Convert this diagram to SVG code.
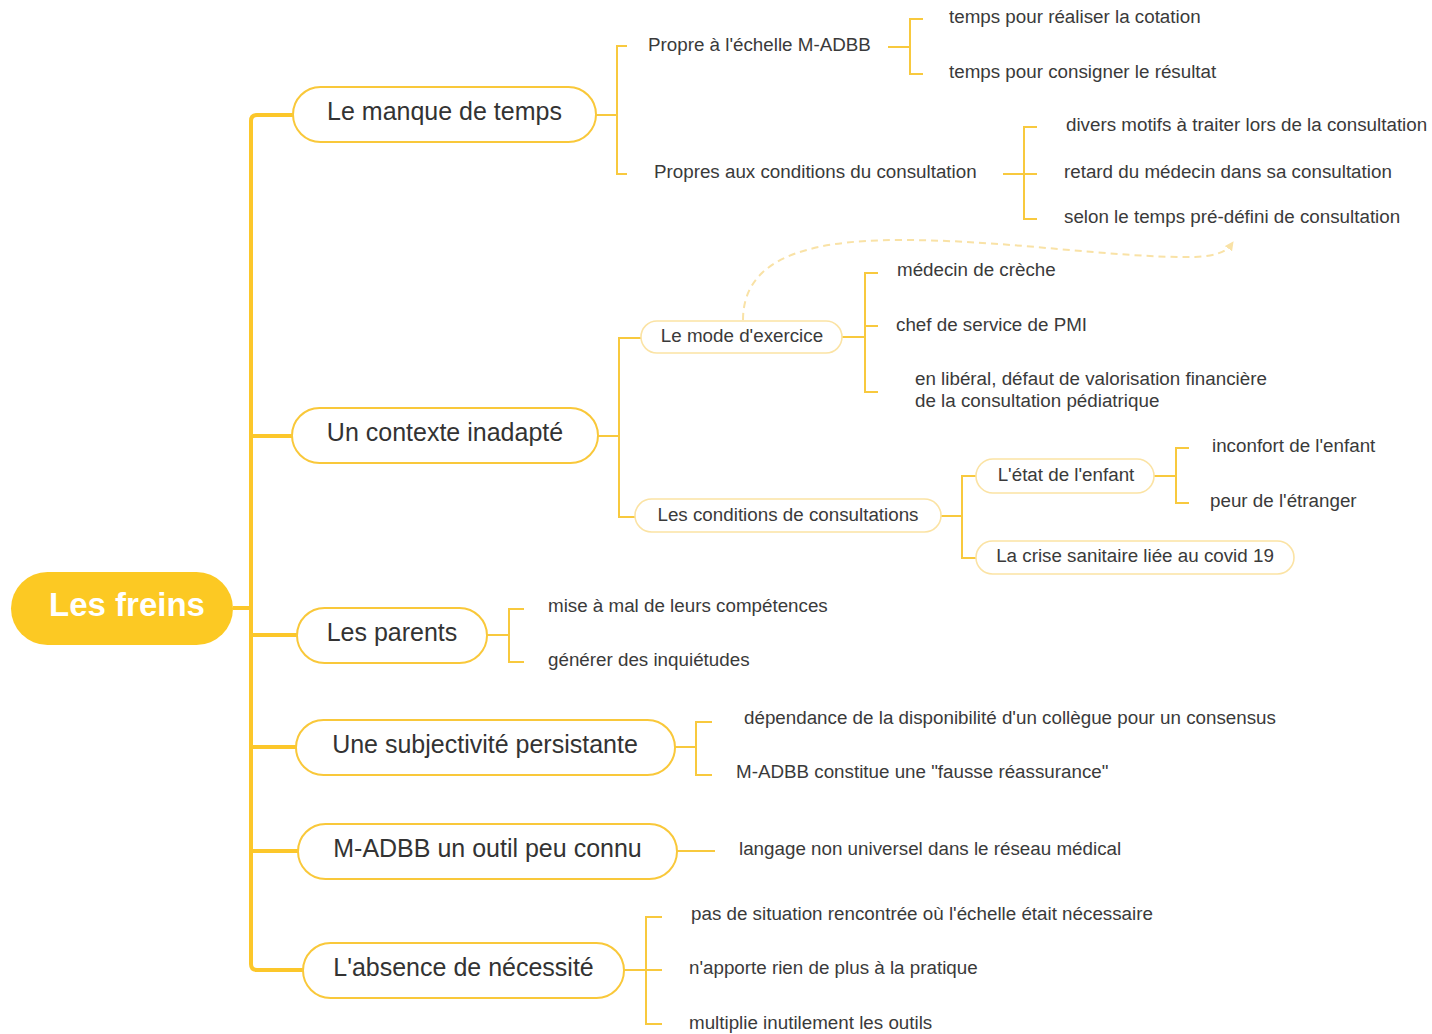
<svg xmlns="http://www.w3.org/2000/svg" width="1432" height="1034" viewBox="0 0 1432 1034">
<defs>
<style>
.t{font-family:"Liberation Sans",Arial,sans-serif;fill:#3a3a3a}
.l1{font-size:25px;text-anchor:middle;fill:#333}
.l2{font-size:18.8px}
.mid{text-anchor:middle}
.p1{fill:#fff;stroke:#F9C83A;stroke-width:2}
.p3{fill:#fff;stroke:#FBE3A4;stroke-width:1.6}
.br{fill:none;stroke:#F8C93E;stroke-width:2}
.tr{fill:none;stroke:#FCC72A;stroke-width:4;stroke-linejoin:round}
</style>
<marker id="ah" viewBox="0 0 10 10" refX="5" refY="5" markerWidth="9" markerHeight="9" orient="auto" markerUnits="userSpaceOnUse">
<path d="M0,0 L10,5 L0,10 z" fill="#F9E2A6"/>
</marker>
</defs>
<rect width="1432" height="1034" fill="#fff"/>

<g id="connectors">
<path class="tr" d="M233,608 H251"/>
<path class="tr" d="M293,115 H257 Q251,115 251,121 V964 Q251,970 257,970 H303"/>
<path class="tr" d="M251,436 H292"/>
<path class="tr" d="M251,635 H297"/>
<path class="tr" d="M251,747 H296"/>
<path class="tr" d="M251,851 H298"/>
<path class="br" d="M596,115 H617"/>
<path class="br" d="M627,46 H617 V174 H627"/>
<path class="br" d="M888,47 H910"/>
<path class="br" d="M923,19 H910 V74 H923"/>
<path class="br" d="M1003,174 H1037"/>
<path class="br" d="M1037,127 H1024 V219 H1037"/>
<path class="br" d="M598,436 H619"/>
<path class="br" d="M641,338 H619 V517 H635"/>
<path class="br" d="M842,337 H865"/>
<path class="br" d="M878,273 H865 V392 H878"/>
<path class="br" d="M865,326 H878"/>
<path class="br" d="M941,516 H962"/>
<path class="br" d="M976,476 H962 V558 H976"/>
<path class="br" d="M1154,476 H1176"/>
<path class="br" d="M1189,448 H1176 V503 H1189"/>
<path class="br" d="M487,635 H509"/>
<path class="br" d="M524,609 H509 V662 H524"/>
<path class="br" d="M675,747 H696"/>
<path class="br" d="M712,722 H696 V775 H712"/>
<path class="br" d="M677,851 H715"/>
<path class="br" d="M624,970 H662"/>
<path class="br" d="M662,917 H646 V1024 H662"/>
<path d="M743,320 C743,262 800,240 900,240 C1010,240 1110,258 1195,257 C1215,256 1226,252 1231,245" fill="none" stroke="#F9E2A6" stroke-width="2" stroke-dasharray="7,5" marker-end="url(#ah)"/>
</g>

<g id="root">
<rect x="11" y="572" width="222" height="73" rx="36.5" fill="#FCC923"/>
<text class="t" x="127" y="615.5" text-anchor="middle" font-size="33" font-weight="bold" style="fill:#fff">Les freins</text>
</g>

<g id="n-manque">
<rect class="p1" x="293" y="87" width="303" height="55" rx="27.5"/>
<text class="t l1" x="444.5" y="120">Le manque de temps</text>
</g>
<g id="n-propre"><text class="t l2" x="648" y="50.5">Propre à l'échelle M-ADBB</text></g>
<g id="n-cotation"><text class="t l2" x="949" y="23">temps pour réaliser la cotation</text></g>
<g id="n-resultat"><text class="t l2" x="949" y="78">temps pour consigner le résultat</text></g>
<g id="n-propres"><text class="t l2" x="654" y="178">Propres aux conditions du consultation</text></g>
<g id="n-motifs"><text class="t l2" x="1066" y="131">divers motifs à traiter lors de la consultation</text></g>
<g id="n-retard"><text class="t l2" x="1064" y="178">retard du médecin dans sa consultation</text></g>
<g id="n-selon"><text class="t l2" x="1064" y="223">selon le temps pré-défini de consultation</text></g>

<g id="n-contexte">
<rect class="p1" x="292" y="408" width="306" height="55" rx="27.5"/>
<text class="t l1" x="445" y="441">Un contexte inadapté</text>
</g>
<g id="n-mode">
<rect class="p3" x="641" y="321" width="201" height="32" rx="16"/>
<text class="t l2 mid" x="742" y="342">Le mode d'exercice</text>
</g>
<g id="n-creche"><text class="t l2" x="897" y="276">médecin de crèche</text></g>
<g id="n-pmi"><text class="t l2" x="896" y="331">chef de service de PMI</text></g>
<g id="n-liberal"><text class="t l2" x="915" y="385">en libéral, défaut de valorisation financière</text><text class="t l2" x="915" y="407">de la consultation pédiatrique</text></g>
<g id="n-conditions">
<rect class="p3" x="635" y="499" width="306" height="33" rx="16.5"/>
<text class="t l2 mid" x="788" y="521">Les conditions de consultations</text>
</g>
<g id="n-etat">
<rect class="p3" x="976" y="459" width="178" height="34" rx="17"/>
<text class="t l2 mid" x="1066" y="480.5">L'état de l'enfant</text>
</g>
<g id="n-inconfort"><text class="t l2" x="1212" y="452">inconfort de l'enfant</text></g>
<g id="n-peur"><text class="t l2" x="1210" y="507">peur de l'étranger</text></g>
<g id="n-covid">
<rect class="p3" x="976" y="541" width="318" height="33" rx="16.5"/>
<text class="t l2 mid" x="1135" y="562">La crise sanitaire liée au covid 19</text>
</g>

<g id="n-parents">
<rect class="p1" x="297" y="608" width="190" height="55" rx="27.5"/>
<text class="t l1" x="392" y="641">Les parents</text>
</g>
<g id="n-mise"><text class="t l2" x="548" y="612">mise à mal de leurs compétences</text></g>
<g id="n-generer"><text class="t l2" x="548" y="666">générer des inquiétudes</text></g>

<g id="n-subj">
<rect class="p1" x="296" y="720" width="379" height="55" rx="27.5"/>
<text class="t l1" x="485" y="753">Une subjectivité persistante</text>
</g>
<g id="n-dependance"><text class="t l2" x="744" y="724">dépendance de la disponibilité d'un collègue pour un consensus</text></g>
<g id="n-fausse"><text class="t l2" x="736" y="778">M-ADBB constitue une "fausse réassurance"</text></g>

<g id="n-outil">
<rect class="p1" x="298" y="824" width="379" height="55" rx="27.5"/>
<text class="t l1" x="487.5" y="857">M-ADBB un outil peu connu</text>
</g>
<g id="n-langage"><text class="t l2" x="739" y="855">langage non universel dans le réseau médical</text></g>

<g id="n-absence">
<rect class="p1" x="303" y="943" width="321" height="55" rx="27.5"/>
<text class="t l1" x="463.5" y="976">L'absence de nécessité</text>
</g>
<g id="n-situation"><text class="t l2" x="691" y="920">pas de situation rencontrée où l'échelle était nécessaire</text></g>
<g id="n-rien"><text class="t l2" x="689" y="974">n'apporte rien de plus à la pratique</text></g>
<g id="n-multiplie"><text class="t l2" x="689" y="1029">multiplie inutilement les outils</text></g>
</svg>
